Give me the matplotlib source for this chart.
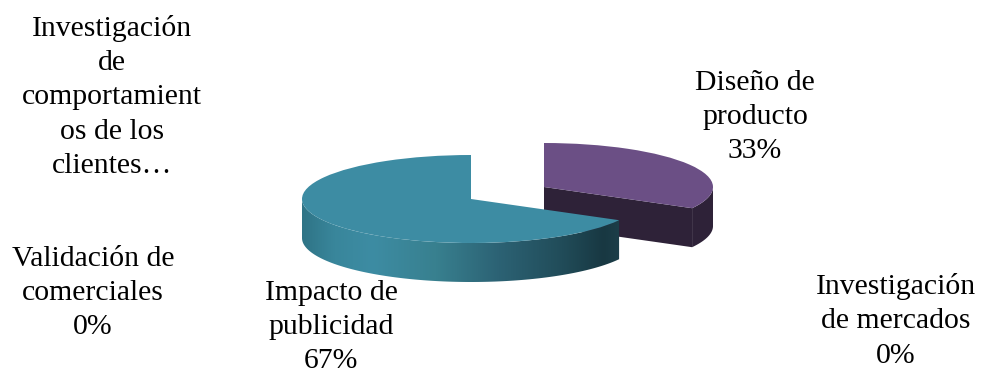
#!/usr/bin/env python
# coding=utf-8

import matplotlib
matplotlib.use("Agg")
import matplotlib.pyplot as plt
from matplotlib.colors import LinearSegmentedColormap
from matplotlib.patches import Polygon
from matplotlib.transforms import Affine2D
import numpy as np

W, H = 982, 373

categories = ["Diseño de\nproducto", "Investigación\nde mercados", "Impacto de\npublicidad",
              "Validación de\ncomerciales",
              "Investigación\nde\ncomportamient\nos de los\nclientes…"]
values = [33, 0, 67, 0, 0]
percent_labels = ["33%", "0%", "67%", "0%", ""]

colors = ["#6b4f85", "#4f81bd", "#3d8ca3", "#9bbb59", "#c0504d"]
label_centers = [(755, 117), (896, 321), (331, 327), (93, 293), (112, 97)]
slice_centers = [(544, 187), (544, 187), (471, 199), (471, 199), (471, 199)]

RX, RY, DEPTH = 169, 44, 39

plt.rcParams["font.family"] = ["Liberation Serif", "DejaVu Serif"]

fig = plt.figure(figsize=(W / 100, H / 100), dpi=100)
ax = fig.add_axes([0, 0, 1, 1])

wedges, _ = ax.pie(values, colors=colors, startangle=90, counterclock=False,
                   radius=RX, center=(0, 0), wedgeprops={"linewidth": 0})
ax.set_aspect("auto")
ax.set_xlim(0, W)
ax.set_ylim(H, 0)
ax.axis("off")


def wall_points(cx, cy, angles):
    # y axis points down, so the sine is subtracted
    xs = cx + RX * np.cos(angles)
    ys = cy - RY * np.sin(angles)
    top = np.column_stack([xs, ys])
    bottom = np.column_stack([xs, ys + DEPTH])[::-1]
    return np.vstack([top, bottom])


for wedge, value, center in zip(wedges, values, slice_centers):
    if value == 0:
        continue
    cx, cy = center
    angles = np.radians(np.linspace(wedge.theta1, wedge.theta2, 300))
    angles = angles[np.sin(angles) <= 0]

    if value == 33:
        # purple slice: cut face and outer wall, plain dark colour
        end = np.radians(wedge.theta1)
        ex, ey = cx + RX * np.cos(end), cy - RY * np.sin(end)
        ax.add_patch(Polygon([(cx, cy), (ex, ey), (ex, ey + DEPTH), (cx, cy + DEPTH)],
                             fc="#2e2238", ec="none", zorder=1))
        ax.add_patch(Polygon(wall_points(cx, cy, angles), fc="#2e2238", ec="none", zorder=1))
        wedge.set_zorder(2)
    else:
        # teal slice: wall with horizontal shading, drawn over the purple one
        wall = Polygon(wall_points(cx, cy, angles), fc="none", ec="none", zorder=3)
        ax.add_patch(wall)
        shade = LinearSegmentedColormap.from_list("wall", [
            (0.00, "#2f7486"), (0.10, "#39869b"), (0.22, "#3d8ca3"), (0.42, "#38808f"),
            (0.62, "#2c6274"), (0.82, "#214c59"), (0.95, "#183842"), (1.00, "#1c3e49")])
        x0, x1 = cx - RX, cx + RX * np.cos(np.radians(wedge.theta2))
        img = ax.imshow(np.linspace(0, 1, 256).reshape(1, -1), cmap=shade, aspect="auto",
                        extent=(x0, x1, cy + RY + DEPTH, cy - RY), zorder=3)
        img.set_clip_path(wall)
        wedge.set_zorder(4)
    wedge.set_transform(Affine2D().scale(1, -RY / RX).translate(cx, cy) + ax.transData)

ax.set_xlim(0, W)
ax.set_ylim(H, 0)

for name, pct, center in zip(categories, percent_labels, label_centers):
    label = name + "\n" + pct if pct else name
    ax.text(center[0], center[1], label, ha="center", va="center", fontsize=21.4,
            linespacing=1.42, color="black")

fig.savefig("out.png", dpi=100)
